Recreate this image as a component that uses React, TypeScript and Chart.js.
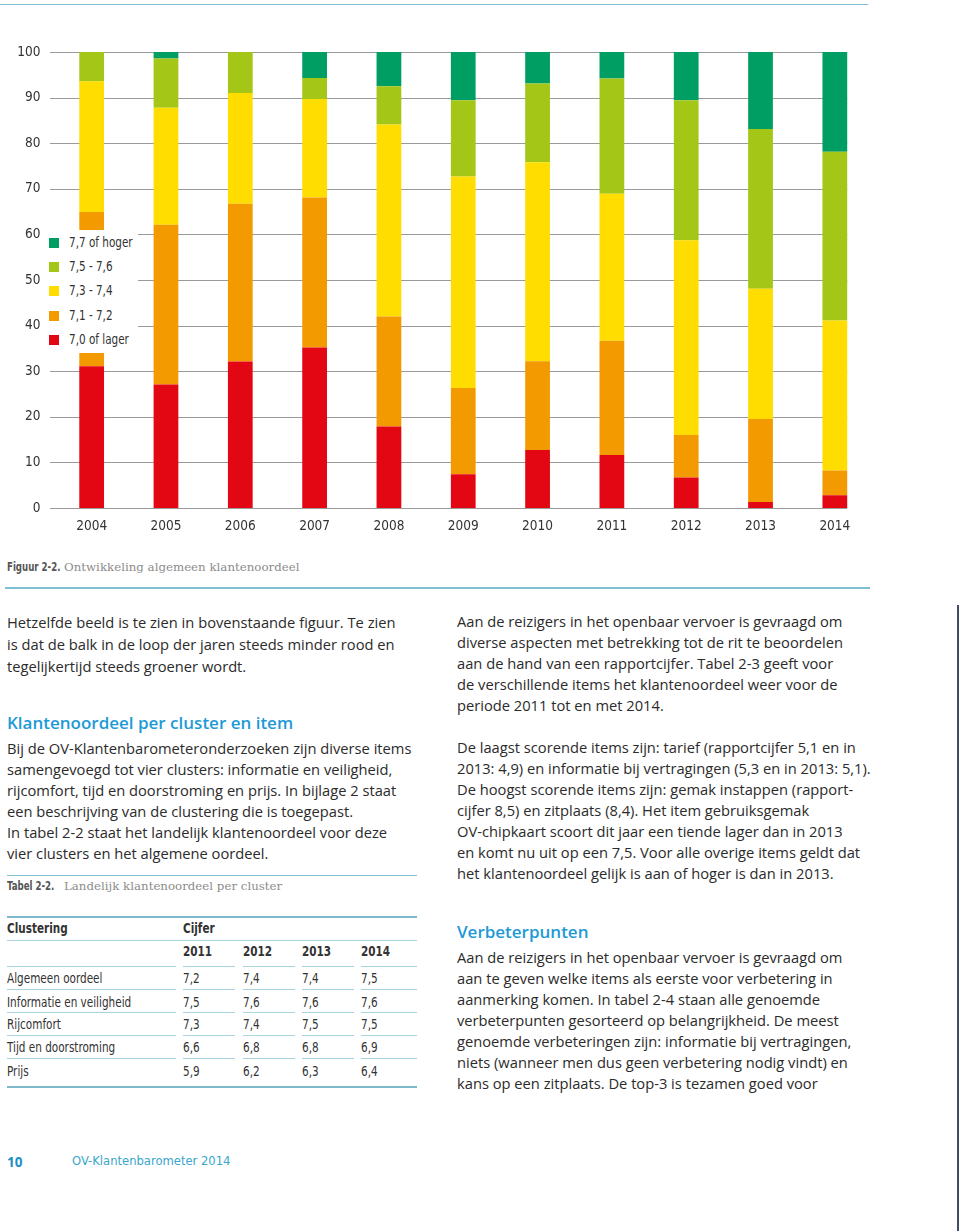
import React, { useEffect, useRef } from "react";
import { Chart, registerables } from "chart.js";
Chart.register(...registerables);

const years = ["2004", "2005", "2006", "2007", "2008", "2009", "2010", "2011", "2012", "2013", "2014"];
const seriesLabels = ["7,0 of lager", "7,1 - 7,2", "7,3 - 7,4", "7,5 - 7,6", "7,7 of hoger"];
const seriesColors = ["#e30613", "#f39a00", "#ffdd00", "#a3c617", "#009e63"];
const lager70 = [31.1, 27.1, 32.1, 35.2, 17.9, 7.4, 12.7, 11.6, 6.7, 1.3, 2.8];
const range7172 = [33.8, 35.0, 34.6, 32.9, 24.1, 18.9, 19.5, 25.1, 9.3, 18.2, 5.4];
const range7374 = [28.7, 25.7, 24.3, 21.6, 42.1, 46.4, 43.6, 32.2, 42.7, 28.6, 32.9];
const range7576 = [6.4, 10.8, 9.0, 4.6, 8.4, 16.7, 17.3, 25.3, 30.7, 35.0, 37.0];
const hoger77 = [0, 1.4, 0, 5.7, 7.5, 10.6, 6.9, 5.8, 10.6, 16.9, 21.9];
const seriesValues = [lager70, range7172, range7374, range7576, hoger77];
const yMin = 0;
const yMax = 100;
const yStep = 10;

const tableClusters = ["Algemeen oordeel", "Informatie en veiligheid", "Rijcomfort", "Tijd en doorstroming", "Prijs"];
const tableYears = ["2011", "2012", "2013", "2014"];
const tableValues = [
  ["7,2", "7,4", "7,4", "7,5"],
  ["7,5", "7,6", "7,6", "7,6"],
  ["7,3", "7,4", "7,5", "7,5"],
  ["6,6", "6,8", "6,8", "6,9"],
  ["5,9", "6,2", "6,3", "6,4"],
];

const NARROW = "'Liberation Sans Narrow', 'DejaVu Sans Condensed', 'Roboto', sans-serif";
const BODY = "'Open Sans', Lato, sans-serif";
const SLAB = "'DejaVu Serif', serif";
const BLUE_LINE = "#7fbfd3";
const TEXT = "#2b2b2b";

const gridPlugin = {
  id: "customGrid",
  beforeDatasetsDraw(chart: any) {
    const { ctx, chartArea, scales } = chart;
    const y = scales.y;
    const meta = chart.getDatasetMeta(chart.data.datasets.length - 1);
    const last = meta.data[meta.data.length - 1] as any;
    const right = last.x + last.width / 2;
    ctx.save();
    ctx.strokeStyle = "#9a9a9a";
    ctx.lineWidth = 1.2;
    y.ticks.forEach((t: any) => {
      const py = Math.round(y.getPixelForValue(t.value)) + 0.5;
      ctx.beginPath();
      ctx.moveTo(chartArea.left - 4.5, py);
      ctx.lineTo(right, py);
      ctx.stroke();
    });
    ctx.restore();
  },
};

function BarChart() {
  const ref = useRef<HTMLCanvasElement>(null);
  useEffect(() => {
    if (!ref.current) return;
    const chart = new Chart(ref.current, {
      type: "bar",
      data: {
        labels: years,
        datasets: seriesValues.map((vals, i) => ({
          label: seriesLabels[i],
          data: vals,
          backgroundColor: seriesColors[i],
          borderWidth: 0,
          categoryPercentage: 1,
          barPercentage: 0.333,
        })),
      },
      options: {
        animation: false,
        responsive: false,
        maintainAspectRatio: false,
        layout: { padding: { top: 52, left: 0, right: 8, bottom: 0 } },
        plugins: { legend: { display: false }, tooltip: { enabled: false } },
        scales: {
          x: {
            stacked: true,
            grid: { display: false, drawTicks: false },
            border: { display: false },
            ticks: { color: "#333", font: { family: NARROW, size: 13.5 }, padding: 10, maxRotation: 0 },
            afterFit: (s: any) => {
              s.height = 37;
            },
          },
          y: {
            stacked: true,
            min: yMin,
            max: yMax,
            grid: { display: false, drawTicks: false },
            border: { display: false },
            ticks: { stepSize: yStep, color: "#333", font: { family: NARROW, size: 13.5 }, padding: 14 },
            afterFit: (s: any) => {
              s.width = 54.5;
            },
          },
        },
      },
      plugins: [gridPlugin],
    });
    return () => chart.destroy();
  }, []);
  return <canvas ref={ref} width={880} height={545} style={{ position: "absolute", left: 0, top: 0, width: 880, height: 545 }} />;
}

function Narrow({ children, k = 0.84, style }: any) {
  return (
    <span style={{ display: "inline-block", transform: `scaleX(${k})`, transformOrigin: "left center", whiteSpace: "nowrap", ...style }}>
      {children}
    </span>
  );
}

function Legend() {
  const order = [4, 3, 2, 1, 0];
  return (
    <div style={{ position: "absolute", left: 44, top: 230, width: 94, height: 122, background: "#fff", paddingTop: 1 }}>
      {order.map((i) => (
        <div key={i} style={{ position: "relative", height: 24.2 }}>
          <div style={{ position: "absolute", left: 5, top: 7, width: 10, height: 10, background: seriesColors[i] }} />
          <span style={{ position: "absolute", left: 25, top: 3, font: `14.5px ${NARROW}`, color: "#333", whiteSpace: "nowrap" }}>
            <Narrow k={0.8}>{seriesLabels[i]}</Narrow>
          </span>
        </div>
      ))}
    </div>
  );
}

function HLine({ x, y, w, h = 1, color = BLUE_LINE }: any) {
  return <div style={{ position: "absolute", left: x, top: y, width: w, height: h, background: color }} />;
}

function Para({ x, top, lh, lines, size = 14.7 }: any) {
  return (
    <div style={{ position: "absolute", left: x, top, font: `${size}px/${lh}px ${BODY}`, color: TEXT, whiteSpace: "nowrap" }}>
      {lines.map((l: string, i: number) => (
        <div key={i}>{l}</div>
      ))}
    </div>
  );
}

function Caption({ x, cy, bold, rest }: any) {
  return (
    <div style={{ position: "absolute", left: x, top: cy - 9, height: 18, lineHeight: "18px", whiteSpace: "nowrap" }}>
      <span style={{ position: "absolute", left: 0, top: 0, font: `bold 12px ${NARROW}`, color: "#555" }}>
        <Narrow k={0.8}>{bold}</Narrow>
      </span>
      <span style={{ position: "absolute", left: 57, top: 0, font: `11.8px ${SLAB}`, color: "#8c8c8c" }}>{rest}</span>
    </div>
  );
}

const colX = [7, 183, 243, 302, 361];
const colW = [169, 52, 52, 52, 56];

function Table() {
  const rowCenters = [979.3, 1002.7, 1025.3, 1047.7, 1071.7];
  const segLines = [966.7, 989.3, 1012.3, 1035.3, 1058];
  const cell = (txt: string, x: number, cy: number, bold = false, key?: any) => (
    <div key={key} style={{ position: "absolute", left: x, top: cy - 9, height: 18, lineHeight: "18px", font: `${bold ? "bold " : ""}14px ${NARROW}`, color: "#333", whiteSpace: "nowrap" }}>
      <Narrow k={0.83}>{txt}</Narrow>
    </div>
  );
  return (
    <>
      <HLine x={7} y={915.7} w={410} h={2} color="#7db9c9" />
      {cell("Clustering", colX[0], 929.3, true)}
      {cell("Cijfer", colX[1], 929.3, true)}
      <HLine x={7} y={939.5} w={410} h={1} color="#a9d3df" />
      {tableYears.map((yr, j) => cell(yr, colX[j + 1], 952.3, true, "y" + j))}
      {segLines.map((ly, r) =>
        colX.map((cx, c) => <HLine key={`l${r}-${c}`} x={cx} y={ly - 0.5} w={colW[c]} h={1} color="#a9d3df" />)
      )}
      {tableClusters.map((name, r) => (
        <React.Fragment key={"r" + r}>
          {cell(name, colX[0], rowCenters[r])}
          {tableValues[r].map((v, j) => cell(v, colX[j + 1], rowCenters[r], false, `v${r}-${j}`))}
        </React.Fragment>
      ))}
      <HLine x={7} y={1085.7} w={410} h={2} color="#7db9c9" />
    </>
  );
}

export default function App() {
  return (
    <div style={{ position: "relative", width: 960, height: 1231, overflow: "hidden", background: "#fff" }}>
      <style>{`body{margin:0;background:#fff}`}</style>
      <HLine x={0} y={3.5} w={868} h={1.5} />
      <BarChart />
      <Legend />
      <Caption x={7} cy={569} bold="Figuur 2-2." rest="Ontwikkeling algemeen klantenoordeel" />
      <HLine x={5} y={587} w={865} h={1.5} />
      <Para
        x={7}
        top={610.7}
        lh={22}
        lines={[
          "Hetzelfde beeld is te zien in bovenstaande figuur. Te zien",
          "is dat de balk in de loop der jaren steeds minder rood en",
          "tegelijkertijd steeds groener wordt.",
        ]}
      />
      <div style={{ position: "absolute", left: 7, top: 711, lineHeight: "22px", font: `600 17px ${BODY}`, color: "#1d9ad6", whiteSpace: "nowrap" }}>
        Klantenoordeel per cluster en item
      </div>
      <Para
        x={7}
        top={737.8}
        lh={21.1}
        lines={[
          "Bij de OV-Klantenbarometeronderzoeken zijn diverse items",
          "samengevoegd tot vier clusters: informatie en veiligheid,",
          "rijcomfort, tijd en doorstroming en prijs. In bijlage 2 staat",
          "een beschrijving van de clustering die is toegepast.",
          "In tabel 2-2 staat het landelijk klantenoordeel voor deze",
          "vier clusters en het algemene oordeel.",
        ]}
      />
      <HLine x={7} y={874.5} w={410} h={1.2} />
      <Caption x={7} cy={887.7} bold="Tabel 2-2." rest="Landelijk klantenoordeel per cluster" />
      <Table />
      <Para
        x={457}
        top={611.2}
        lh={21}
        lines={[
          "Aan de reizigers in het openbaar vervoer is gevraagd om",
          "diverse aspecten met betrekking tot de rit te beoordelen",
          "aan de hand van een rapportcijfer. Tabel 2-3 geeft voor",
          "de verschillende items het klantenoordeel weer voor de",
          "periode 2011 tot en met 2014.",
        ]}
      />
      <Para
        x={457}
        top={736.8}
        lh={20.95}
        lines={[
          "De laagst scorende items zijn: tarief (rapportcijfer 5,1 en in",
          "2013: 4,9) en informatie bij vertragingen (5,3 en in 2013: 5,1).",
          "De hoogst scorende items zijn: gemak instappen (rapport-",
          "cijfer 8,5) en zitplaats (8,4). Het item gebruiksgemak",
          "OV-chipkaart scoort dit jaar een tiende lager dan in 2013",
          "en komt nu uit op een 7,5. Voor alle overige items geldt dat",
          "het klantenoordeel gelijk is aan of hoger is dan in 2013.",
        ]}
      />
      <div style={{ position: "absolute", left: 457, top: 920.3, lineHeight: "22px", font: `600 17px ${BODY}`, color: "#1d9ad6", whiteSpace: "nowrap" }}>
        Verbeterpunten
      </div>
      <Para
        x={457}
        top={946.8}
        lh={20.95}
        lines={[
          "Aan de reizigers in het openbaar vervoer is gevraagd om",
          "aan te geven welke items als eerste voor verbetering in",
          "aanmerking komen. In tabel 2-4 staan alle genoemde",
          "verbeterpunten gesorteerd op belangrijkheid. De meest",
          "genoemde verbeteringen zijn: informatie bij vertragingen,",
          "niets (wanneer men dus geen verbetering nodig vindt) en",
          "kans op een zitplaats. De top-3 is tezamen goed voor",
        ]}
      />
      <div style={{ position: "absolute", left: 956.5, top: 605, width: 2, height: 626, background: "#3e4d64" }} />
      <div style={{ position: "absolute", left: 7, top: 1153, lineHeight: "18px", font: `bold 13.5px ${BODY}`, color: "#1a8fc6" }}>10</div>
      <div style={{ position: "absolute", left: 72, top: 1153, lineHeight: "18px", font: `13px ${NARROW}`, color: "#3aa6cc", whiteSpace: "nowrap" }}>
        <Narrow k={0.99}>OV-Klantenbarometer 2014</Narrow>
      </div>
    </div>
  );
}
